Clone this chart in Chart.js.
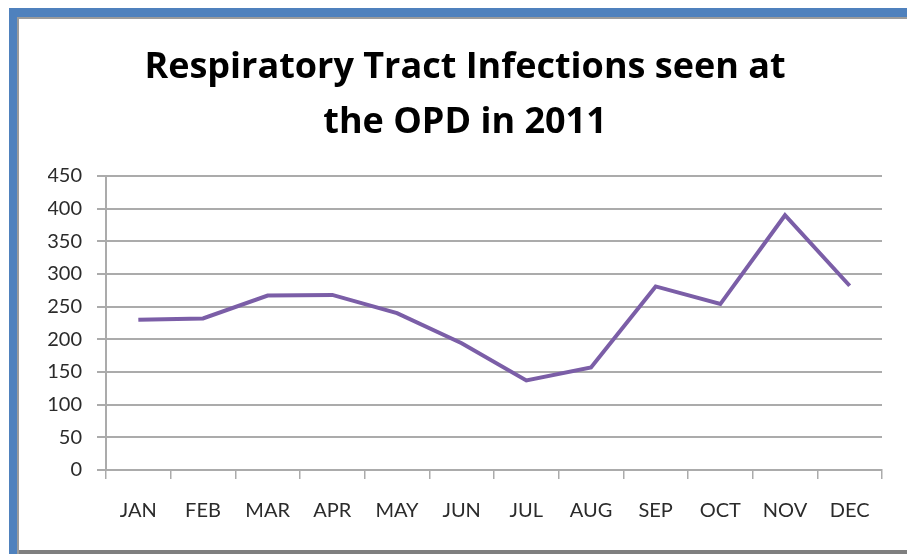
<!DOCTYPE html>
<html>
<head>
<meta charset="utf-8">
<script src="https://cdn.jsdelivr.net/npm/chart.js@4"></script>
<style>
  html, body { margin: 0; padding: 0; background: #ffffff; }
  #wrap { position: relative; width: 907px; height: 554px; overflow: hidden; background: #ffffff; }
  .frame { position: absolute; }
  #blueTop { left: 9px; top: 8px; width: 898px; height: 9px; background: #4f81bd; }
  #blueLeft { left: 9px; top: 8px; width: 8px; height: 546px; background: #4f81bd; }
  #greyTop { left: 17px; top: 17px; width: 890px; height: 2px; background: #9b9b9b; }
  #greyLeft { left: 17px; top: 17px; width: 2px; height: 537px; background: #9b9b9b; }
  #greyBottom { left: 19px; top: 550px; width: 888px; height: 4px; background: #7f7f7f; }
  canvas { position: absolute; left: 0; top: 0; }
</style>
</head>
<body>
<div id="wrap">
  <div class="frame" id="blueTop"></div>
  <div class="frame" id="blueLeft"></div>
  <div class="frame" id="greyTop"></div>
  <div class="frame" id="greyLeft"></div>
  <div class="frame" id="greyBottom"></div>
  <canvas id="chart" width="907" height="554"></canvas>
</div>
<script>
// Monthly counts of respiratory tract infections at the OPD, 2011
const months = ['JAN', 'FEB', 'MAR', 'APR', 'MAY', 'JUN', 'JUL', 'AUG', 'SEP', 'OCT', 'NOV', 'DEC'];
const cases = [230, 232, 267, 268, 240, 194, 137, 157, 281, 254, 390, 282];
const yTicks = [0, 50, 100, 150, 200, 250, 300, 350, 400, 450];
const titleLines = ['Respiratory Tract Infections seen at', 'the OPD in 2011'];

const labelFont = { family: 'Lato, "Open Sans", sans-serif', size: 20 };
const gridGrey = '#ababab';

new Chart(document.getElementById('chart'), {
  type: 'line',
  data: {
    labels: months,
    datasets: [{
      data: cases,
      borderColor: '#7b5ea7',
      borderWidth: 4,
      pointRadius: 0,
      tension: 0,
      fill: false
    }]
  },
  options: {
    responsive: false,
    animation: false,
    devicePixelRatio: 1,
    // wider left padding centres the title a little right of the canvas middle
    layout: { padding: { top: 40, left: 48, right: 25, bottom: 22 } },
    plugins: {
      legend: { display: false },
      tooltip: { enabled: false },
      title: {
        display: true,
        text: titleLines,
        color: '#000000',
        font: { family: '"Open Sans", Lato, sans-serif', size: 36, weight: 'bold', lineHeight: '55px' },
        padding: { top: 0, bottom: 26 }
      }
    },
    scales: {
      x: {
        type: 'category',
        offset: true,
        grid: {
          offset: true,
          drawOnChartArea: false,
          drawTicks: true,
          tickLength: 9,
          color: gridGrey,
          lineWidth: 1.5
        },
        border: { display: true, color: gridGrey, width: 2 },
        ticks: { color: '#2b2b2b', font: labelFont, padding: 20, maxRotation: 0, autoSkip: false },
        afterFit: (scale) => { scale.height = 62; }
      },
      y: {
        min: 0,
        max: 450,
        afterBuildTicks: (scale) => { scale.ticks = yTicks.map(v => ({ value: v })); },
        grid: {
          color: gridGrey,
          lineWidth: 2,
          drawTicks: true,
          tickLength: 9
        },
        border: { display: true, color: gridGrey, width: 2 },
        ticks: { color: '#2b2b2b', font: labelFont, padding: 15 },
        afterFit: (scale) => { scale.width = 58; }
      }
    }
  }
});
</script>
</body>
</html>
